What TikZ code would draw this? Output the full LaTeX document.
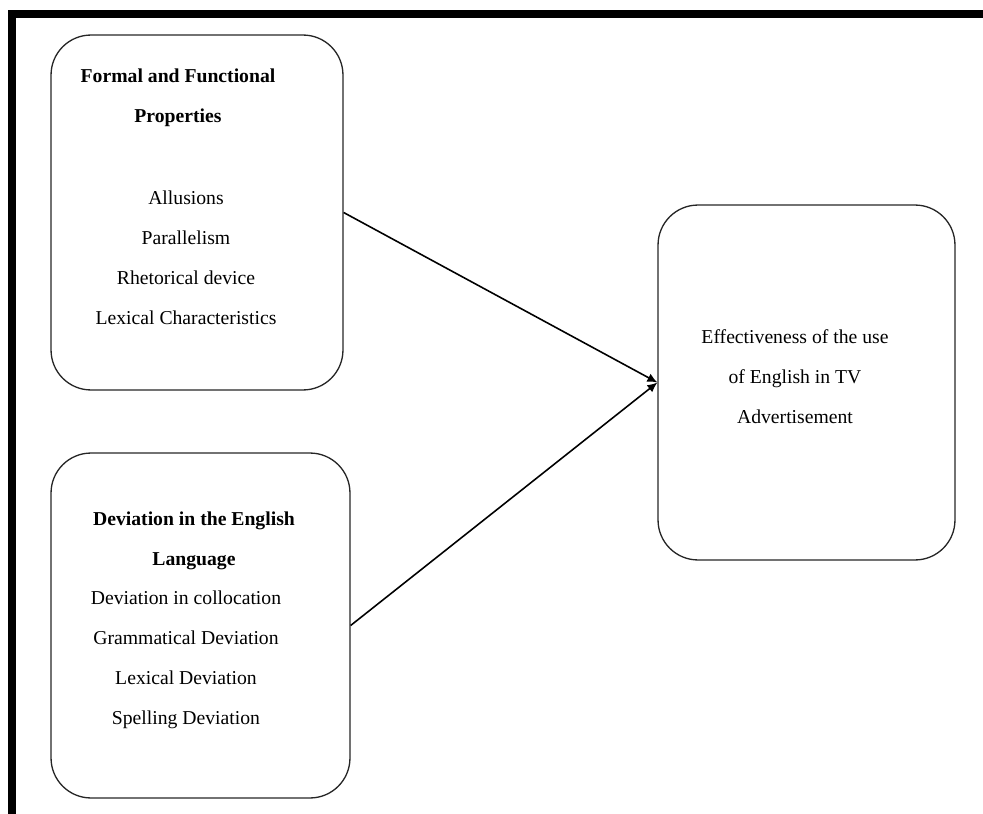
\documentclass[tikz,border=0pt]{standalone}
\usepackage{fontspec}
\setmainfont{Liberation Serif}
\usetikzlibrary{arrows.meta}

\begin{document}
\begin{tikzpicture}[x=0.02cm,y=-0.02cm,
  panel/.style={draw=black!85,line width=0.75pt,rounded corners=0.8cm,inner sep=0pt},
  heading/.style={font=\bfseries\fontsize{11.2}{22.8}\selectfont,align=center},
  items/.style={font=\fontsize{11.2}{22.8}\selectfont,align=center},
  link/.style={-{Latex[length=2mm,width=1.8mm]},line width=0.9pt}]
\useasboundingbox (0,0) rectangle (983,814);
\fill (8,10) rectangle (983,18);
\fill (8,10) rectangle (16,814);
\node[panel,minimum width=5.84cm,minimum height=7.1cm] (formal) at (197,212.5) {};
\node[panel,minimum width=5.98cm,minimum height=6.9cm] (deviation) at (200.5,625.5) {};
\node[panel,minimum width=5.94cm,minimum height=7.1cm] (effect) at (806.5,382.5) {};
\node[heading] (formalhead) at (178,98) {Formal and Functional\\Properties};
\node[items] (formallist) at (186,257.5) {Allusions\\Parallelism\\Rhetorical device\\Lexical Characteristics};
\node[heading] (deviationhead) at (194,540.5) {Deviation in the English\\Language};
\node[items] (deviationlist) at (186,660) {Deviation in collocation\\Grammatical Deviation\\Lexical Deviation\\Spelling Deviation};
\node[items] (effecttext) at (795,376.5) {Effectiveness of the use\\of English in TV\\Advertisement};
\draw[link] (formal.east) -- (effect.west);
\draw[link] (deviation.east) -- (effect.west);
\end{tikzpicture}
\end{document}
